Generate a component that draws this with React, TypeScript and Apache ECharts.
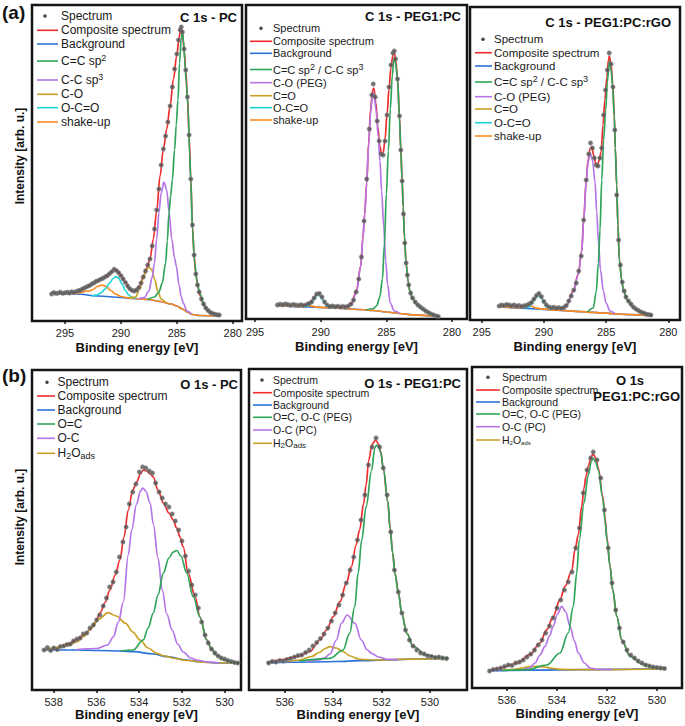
import React, { useEffect, useRef } from 'react';
import * as echarts from 'echarts';

type P = [number, number];

// ---------- Panel 1: C 1s - PC ----------
const c1pcSpectrum: P[] = [[296.2,27],[296.0,28.5],[295.8,27.5],[295.6,28],[295.4,28.8],[295.2,27.6],[295.0,28.2],[294.8,28.8],[294.6,28],[294.4,29.2],[294.2,28.6],[294.0,29.6],[293.8,30.2],[293.6,31],[293.4,32.2],[293.2,33.4],[293.0,34.6],[292.8,35.4],[292.6,37],[292.4,38.2],[292.2,39.8],[292.0,40.6],[291.8,41.8],[291.6,42.8],[291.4,44.2],[291.2,45.4],[291.0,47.4],[290.8,49.4],[290.6,51.8],[290.4,50.4],[290.2,48.2],[290.0,45.2],[289.8,42],[289.6,38.6],[289.4,35],[289.2,32.2],[289.0,30.6],[288.8,30],[288.6,31],[288.4,33.4],[288.2,38],[288.0,44],[287.8,50],[287.6,56],[287.4,62],[287.2,75],[287.0,92],[286.8,111],[286.6,132],[286.4,156],[286.2,172],[286.0,185],[285.8,199],[285.6,215],[285.4,234],[285.2,252],[285.0,267],[284.85,281],[284.7,291],[284.6,294],[284.5,289],[284.35,272],[284.2,251],[284.05,224],[283.9,186],[283.75,142],[283.6,96],[283.45,66],[283.3,47],[283.15,36],[283.0,29],[282.8,22],[282.6,17],[282.4,13],[282.2,10.5],[282.0,8.5],[281.8,7.5],[281.6,6.8],[281.4,6.2],[281.2,6]];
const c1pcComposite: P[] = [[296.2,28],[295,28],[294,29],[293.5,31],[293,34],[292.5,37.5],[292,41],[291.5,44],[291,47.5],[290.6,51],[290.3,50],[290,46],[289.6,39],[289.2,32],[288.9,30],[288.6,31],[288.3,36],[288,44],[287.7,53],[287.4,62],[287.1,82],[286.8,110],[286.5,145],[286.2,172],[285.9,192],[285.6,215],[285.3,242],[285.0,266],[284.8,283],[284.65,293],[284.5,289],[284.35,272],[284.2,250],[284.05,225],[283.9,185],[283.75,142],[283.6,95],[283.45,65],[283.3,47],[283.1,33],[282.9,25],[282.6,17],[282.3,11.5],[282,8.5],[281.6,6.5],[281.2,6]];
const c1pcBackground: P[] = [[296.2,28],[294,27],[292,25],[290,23.5],[288.9,22.5],[287.5,21.5],[286.5,19.5],[285.5,17],[285,15],[284.5,12],[284,8.5],[283.6,6.5],[283,5.5],[281.2,5]];
const c1pcShakeUp: P[] = [[296.2,28],[295,27.5],[294,27.5],[293.5,28.5],[293.1,30],[292.8,30],[292.5,31.5],[292.1,34.5],[291.7,36],[291.3,34.5],[290.9,30.5],[290.5,27],[290,24.5],[289.5,23.5],[288.9,22.5],[287.5,21.5],[286.5,19.5],[285.5,17],[285,15],[284.5,12],[284,8.5],[283.6,6.5],[283,5.5],[281.2,5]];
const c1pcOCO: P[] = [[292.6,25],[292.2,25.8],[291.8,28],[291.4,32],[291,38],[290.7,42.5],[290.45,44.5],[290.2,43],[289.9,37],[289.6,30.5],[289.3,26],[289,23.5],[288.6,22.8]];
const c1pcCO: P[] = [[289.3,23],[288.7,24],[288.3,32],[288.0,43],[287.75,51],[287.5,54],[287.25,51.5],[287.0,42],[286.7,30],[286.4,22],[286.0,18.5]];
const c1pcCCsp3: P[] = [[288.4,22.2],[287.9,23.5],[287.5,30],[287.2,44],[287.0,58],[286.8,82],[286.6,108],[286.4,128],[286.15,139],[285.9,131],[285.7,110],[285.45,82],[285.2,63],[285.05,55],[284.8,36],[284.6,24],[284.4,17.5],[284.1,10],[283.7,7]];
const c1pcCCsp2: P[] = [[287.6,21.5],[287.0,24],[286.6,29],[286.3,38],[286.0,58],[285.85,80],[285.7,108],[285.55,125],[285.4,141],[285.2,171],[285.05,196],[284.9,221],[284.75,258],[284.6,284],[284.5,289],[284.4,280],[284.3,262],[284.15,238],[284.0,215],[283.85,167],[283.75,141],[283.6,91],[283.4,58],[283.2,40],[282.95,28],[282.5,14],[282.0,8],[281.2,5.5]];

// ---------- Panel 2: C 1s - PEG1:PC ----------
const c1pegSpectrum: P[] = [[293.3,14],[293.1,14.8],[292.9,14.2],[292.7,15],[292.5,14.5],[292.3,13.8],[292.1,14.6],[291.9,14],[291.7,13.6],[291.5,14.2],[291.3,13.5],[291.1,14.4],[290.9,15.5],[290.7,17],[290.5,21],[290.3,25],[290.1,25.5],[289.9,22],[289.7,17],[289.5,13.8],[289.3,12.5],[289.1,13],[288.9,12.2],[288.7,12.8],[288.5,12],[288.3,12.6],[288.1,12],[287.9,13],[287.7,15],[287.5,19],[287.3,27],[287.1,40],[286.9,62],[286.7,98],[286.5,140],[286.3,190],[286.1,224],[286.0,235],[285.85,222],[285.7,198],[285.55,178],[285.4,165],[285.25,164],[285.1,178],[284.95,204],[284.8,232],[284.65,254],[284.5,266],[284.4,268],[284.3,260],[284.15,240],[284.0,203],[283.9,169],[283.8,138],[283.7,105],[283.6,76],[283.5,56],[283.4,44],[283.3,34],[283.15,26],[283.0,21],[282.8,17],[282.6,14],[282.4,12],[282.2,10],[282.0,8],[281.8,6.5],[281.6,5],[281.4,4],[281.2,3],[281.05,2.6]];
const c1pegComposite: P[] = [[293.3,14],[292,13.5],[291.4,13.5],[291.1,14.2],[290.8,16.5],[290.55,20.5],[290.35,24.5],[290.2,25.5],[290.05,24],[289.85,19.5],[289.6,15],[289.3,12.6],[288.7,12],[288.2,12.3],[287.9,13.5],[287.65,16],[287.27,29],[286.96,53],[286.79,81],[286.65,105],[286.5,136],[286.35,176],[286.2,210],[286.05,229],[285.95,231],[285.8,216],[285.65,192],[285.5,173],[285.36,165],[285.24,166],[285.1,180],[284.95,205],[284.8,230],[284.65,252],[284.5,264],[284.4,267],[284.28,258],[284.15,240],[284.0,202],[283.9,169],[283.8,139],[283.72,112],[283.62,82],[283.5,56],[283.35,38],[283.2,27],[283.0,20],[282.7,15],[282.3,10],[281.94,7.5],[281.5,4.5],[281.05,2.6]];
const c1pegBackground: P[] = [[293.3,13.5],[291,12],[289,11],[287,9.5],[286,8.5],[285,7],[284,5.5],[283,4.2],[281.05,2.6]];
const c1pegShakeUp: P[] = [[293.3,13.5],[292,12.8],[291.4,12.3],[291.1,13.2],[290.9,13.6],[290.6,12.6],[290.2,11.8],[289,11],[287,9.5],[286,8.5],[285,7],[284,5.5],[283,4.2],[281.05,2.6]];
const c1pegOCO: P[] = [[291.3,12.3],[291,13],[290.7,16],[290.5,20],[290.3,23.5],[290.2,24],[290.05,23],[289.85,19],[289.6,14.5],[289.3,11.8],[289,11]];
const c1pegCOPEG: P[] = [[288.2,10.5],[287.65,14],[287.27,27],[286.96,52],[286.79,80],[286.65,105],[286.5,135],[286.35,174],[286.2,206],[286.05,225],[285.95,226],[285.8,210],[285.62,183],[285.49,158],[285.36,128],[285.2,92],[285.05,58],[284.9,34],[284.7,16],[284.4,8],[284.0,5.8]];
const c1pegCC: P[] = [[286.5,9],[286.0,10.5],[285.75,13],[285.5,22],[285.3,40],[285.15,75],[285.0,125],[284.85,168],[284.7,210],[284.55,243],[284.42,261],[284.3,256],[284.15,240],[284.0,201],[283.9,168],[283.8,139],[283.72,112],[283.62,82],[283.5,56],[283.35,38],[283.2,27],[283.0,20],[282.7,15],[282.3,10],[281.94,7.5],[281.5,4.5],[281.05,2.6]];

// ---------- Panel 3: C 1s - PEG1:PC:rGO ----------
const c1rgoSpectrum: P[] = [[293.6,14],[293.4,15],[293.2,14.5],[293.0,15.5],[292.8,15],[292.6,14.2],[292.4,15],[292.2,14],[292.0,14.5],[291.8,13.6],[291.6,14.2],[291.4,14.8],[291.2,16],[291.0,17.5],[290.8,21],[290.6,24.5],[290.4,26.5],[290.2,23.5],[290.0,18.5],[289.8,15],[289.6,13],[289.4,12.2],[289.2,12.8],[289.0,11.8],[288.8,12.4],[288.6,11.6],[288.4,12.5],[288.2,14.5],[288.0,19],[287.8,24],[287.6,30],[287.4,37],[287.2,49],[287.0,64],[286.8,100],[286.6,140],[286.4,166],[286.25,177],[286.1,172],[285.95,162],[285.8,155],[285.65,154],[285.5,162],[285.35,172],[285.2,205],[285.05,230],[284.9,250],[284.75,267],[284.6,256],[284.45,233],[284.3,190],[284.15,125],[284.0,80],[283.85,55],[283.7,38],[283.55,29],[283.4,23],[283.2,19],[283.0,16],[282.8,13],[282.6,11],[282.4,9.5],[282.2,8],[282.0,7],[281.8,6],[281.6,5.5],[281.4,5]];
const c1rgoComposite: P[] = [[293.6,14.5],[292.5,14],[291.8,13.5],[291.4,14],[291.2,15.5],[290.95,18.5],[290.7,22.5],[290.45,26],[290.2,23],[290,18.5],[289.75,14],[289.4,12],[289,11],[288.5,11.5],[288.17,15.5],[287.64,29],[287.24,46],[286.96,69],[286.8,101],[286.6,139],[286.45,160],[286.28,172],[286.15,173],[286.0,165],[285.85,157],[285.71,154],[285.55,160],[285.4,168],[285.25,195],[285.1,220],[284.95,242],[284.8,261],[284.74,264],[284.6,256],[284.47,236],[284.34,204],[284.26,172],[284.15,135],[284.05,95],[283.93,60],[283.75,40],[283.61,30],[283.3,20],[282.8,12],[282.2,7.5],[281.33,5]];
const c1rgoBackground: P[] = [[293.6,13.3],[291,11.4],[289,9.8],[287,8.3],[286,7.6],[285,6.8],[284,6],[283,5.3],[281.33,4]];
const c1rgoShakeUp: P[] = [[293.6,13.3],[292.5,12.6],[291.9,12.3],[291.55,13.4],[291.25,15],[291.0,14],[290.7,12.2],[290.2,11.1],[289,9.8],[287,8.3],[286,7.6],[285,6.8],[284,6],[283,5.3],[281.33,4]];
const c1rgoOCO: P[] = [[291.5,12],[291.2,13],[290.95,16.5],[290.7,21.5],[290.45,25],[290.2,22],[290.0,17.5],[289.75,13],[289.4,10.8]];
const c1rgoCOPEG: P[] = [[288.5,10],[288.17,15],[287.64,28],[287.24,45],[286.96,68],[286.8,100],[286.6,138],[286.45,158],[286.28,167],[286.1,160],[285.89,138],[285.75,108],[285.62,78],[285.45,50],[285.22,29],[285.0,17],[284.69,9],[284.3,6.5]];
const c1rgoCC: P[] = [[286.5,8],[286.03,12],[285.8,28],[285.62,57],[285.49,90],[285.35,140],[285.2,180],[285.03,210],[284.9,238],[284.74,259],[284.6,250],[284.47,232],[284.34,203],[284.26,172],[284.15,135],[284.05,95],[283.93,60],[283.75,40],[283.61,30],[283.3,20],[282.8,12],[282.2,7.5],[281.33,5]];

// ---------- Panel 4: O 1s - PC ----------
const o1pcSpectrum: P[] = [[538.45,40],[538.29,42.5],[538.14,39.5],[537.99,42],[537.83,40.5],[537.68,43.5],[537.53,44],[537.37,45.5],[537.22,46],[537.07,49],[536.91,51],[536.76,52],[536.61,56],[536.45,57],[536.3,62],[536.14,65],[535.99,70],[535.84,75],[535.68,84],[535.53,92],[535.38,103],[535.22,108],[535.07,118],[534.92,133],[534.76,148],[534.61,163],[534.46,186],[534.3,198],[534.15,206],[533.99,218],[533.84,223],[533.69,222],[533.53,219],[533.38,217],[533.23,207],[533.07,198],[532.92,192],[532.77,186],[532.61,183],[532.46,176],[532.31,169],[532.15,160],[532.0,149],[531.84,134],[531.69,119],[531.54,105],[531.38,95],[531.23,82],[531.08,68],[530.92,55],[530.77,47],[530.62,41],[530.46,37],[530.31,34],[530.16,32],[530.0,31],[529.85,29.5],[529.69,28.5],[529.54,27.5],[529.39,27]];
const o1pcComposite: P[] = [[538.45,40],[537.94,41.5],[537.7,43.3],[537.32,46],[536.92,50],[536.61,55],[536.3,60],[536.04,68],[535.83,77],[535.58,88],[535.37,100],[535.12,115],[534.9,130],[534.71,153],[534.51,180],[534.3,200],[534.12,208],[533.94,216],[533.81,220],[533.64,219],[533.48,216],[533.34,213],[533.12,200],[532.87,187],[532.61,177],[532.41,170],[532.25,162],[532.09,153],[531.94,143],[531.71,117],[531.38,93],[531.16,73],[530.84,50],[530.62,41],[530.38,35],[530.05,30],[529.6,27.3],[529.34,26.8]];
const o1pcBackground: P[] = [[538.45,40],[536.91,40],[535.89,39.5],[534.86,39],[534.25,38.3],[533.33,36],[532.71,33.3],[531.79,30],[531.18,28.3],[530.26,27],[529.34,26.7]];
const o1pcH2O: P[] = [[538.45,40],[537.39,44],[536.91,48],[536.61,53.3],[536.2,63],[535.89,71],[535.45,77.3],[535.07,74],[534.63,66.7],[534.3,58],[533.96,50],[533.58,42],[533.19,36.7],[532.82,34],[532.3,31.5],[531.79,29.5],[530.77,27.5],[529.34,26.7]];
const o1pcOC: P[] = [[536.91,40.5],[535.99,41.5],[535.48,45],[535.21,53],[534.97,68],[534.74,88],[534.51,135],[534.35,160],[534.12,186],[533.94,199],[533.83,202],[533.69,199],[533.49,187],[533.34,166],[533.12,132],[532.92,100],[532.71,76],[532.46,60],[532.2,46],[531.94,38],[531.59,32],[531.31,30],[530.77,28],[530.26,27]];
const o1pcOdC: P[] = [[534.86,39],[534.28,40],[533.81,50],[533.58,62],[533.34,77],[533.12,95],[532.87,117],[532.61,132],[532.41,138],[532.24,139.5],[532.05,134],[531.78,117],[531.47,93],[531.16,73],[530.84,50],[530.62,41],[530.38,35],[530.05,30],[529.6,27.3],[529.34,26.8]];

// ---------- Panel 5: O 1s - PEG1:PC ----------
const o1pegSpectrum: P[] = [[536.67,27],[536.52,28.5],[536.37,28],[536.21,29.5],[536.06,29],[535.91,30.5],[535.76,31.5],[535.6,33],[535.45,34.5],[535.3,35],[535.14,37.5],[534.99,40],[534.84,44],[534.68,47.5],[534.53,51.5],[534.38,56],[534.22,62],[534.07,69],[533.92,77],[533.76,85],[533.61,95],[533.46,107],[533.3,120],[533.15,133],[533.0,150],[532.85,170],[532.69,195],[532.54,225],[532.39,243],[532.23,252],[532.08,243],[531.93,222],[531.77,195],[531.62,158],[531.47,120],[531.31,98],[531.16,77],[531.01,60],[530.85,50],[530.7,44],[530.55,40],[530.39,37],[530.24,36],[530.09,34],[529.94,33.5],[529.78,32.5],[529.63,33],[529.48,32],[529.32,31.5]];
const o1pegComposite: P[] = [[536.68,28],[536.19,30],[535.52,33.3],[534.97,38.3],[534.55,50],[534.27,60],[534.0,73.3],[533.72,88.3],[533.46,106.7],[533.25,123.3],[533.05,145],[532.91,160],[532.74,186.7],[532.64,205],[532.53,230],[532.39,246],[532.24,250],[532.13,246],[532.03,238],[531.93,221],[531.74,188],[531.65,162],[531.54,137],[531.45,117],[531.3,97],[531.17,77],[530.96,57],[530.69,43.5],[530.14,35],[529.68,32.5],[529.24,31.7]];
const o1pegBackground: P[] = [[536.73,27.3],[534.89,28],[533.87,28.5],[532.85,29.3],[531.82,30],[530.8,30.8],[529.24,31.5]];
const o1pegH2O: P[] = [[535.91,28],[535.4,30],[534.89,33.5],[534.58,37.5],[534.33,41.5],[534.13,43.3],[533.87,42],[533.61,38.5],[533.3,34],[532.95,31],[532.74,30.5],[532.33,30],[530.8,30.8],[529.24,31.5]];
const o1pegOCPC: P[] = [[535.09,28.5],[534.56,30],[534.38,32],[534.13,36],[533.87,50],[533.66,66.7],[533.42,75],[533.1,66.7],[532.84,50],[532.59,40],[532.41,36.7],[532.13,33],[531.79,30.7],[531.31,30.5]];
const o1pegOCPEG: P[] = [[535.4,29],[534.13,31.7],[533.59,40],[533.32,56.7],[533.11,83.3],[532.97,116.7],[532.82,150],[532.64,183.3],[532.41,220],[532.28,242],[532.2,245],[532.11,243],[532.03,237],[531.93,222],[531.74,188.3],[531.65,161.7],[531.54,136.7],[531.45,116.7],[531.3,96.7],[531.17,76.7],[530.96,56.7],[530.69,43.3],[530.14,35],[529.68,32.5],[529.24,31.7]];

// ---------- Panel 6: O 1s - PEG1:PC:rGO ----------
const o1rgoSpectrum: P[] = [[536.7,17],[536.55,18.5],[536.4,19],[536.25,20],[536.1,21.5],[535.95,23],[535.8,22.5],[535.65,25],[535.5,26],[535.35,28],[535.2,31],[535.05,34],[534.9,38],[534.75,43],[534.6,48],[534.45,55],[534.3,62],[534.15,70],[534.0,80],[533.85,88],[533.7,98],[533.55,106],[533.4,116],[533.25,140],[533.1,160],[532.95,195],[532.8,218],[532.65,230],[532.55,236],[532.4,228],[532.25,210],[532.1,178],[531.95,140],[531.8,105],[531.65,78],[531.5,60],[531.35,46],[531.2,38],[531.05,33],[530.9,30],[530.75,27],[530.6,25],[530.45,23],[530.3,22],[530.15,21],[530.0,20.5],[529.85,20],[529.7,19.5]];
const o1rgoComposite: P[] = [[536.68,17.3],[536.28,20],[535.61,25],[535.08,33.3],[534.68,45],[534.41,58.3],[534.15,71.7],[533.88,88.3],[533.68,101.7],[533.41,117],[533.28,138.3],[533.15,153],[533.01,181.7],[532.92,200],[532.84,211.7],[532.75,222],[532.62,232],[532.55,234],[532.45,230],[532.35,220],[532.17,192],[532.08,170],[532.0,150],[531.88,122],[531.77,98],[531.61,72],[531.41,48],[531.08,32],[530.55,23.5],[530.1,20.5],[529.68,20]];
const o1rgoBackground: P[] = [[536.7,17.3],[535,17.8],[533,18.3],[531,18.8],[529.68,19]];
const o1rgoH2O: P[] = [[536.2,17.5],[535.8,18.5],[535.4,20],[535.1,21.3],[534.81,21.7],[534.5,21],[534.2,19.7],[533.8,18.6],[533.3,18.3],[529.68,19]];
const o1rgoOCPC: P[] = [[535.4,18],[535.1,20],[534.88,25],[534.68,33],[534.48,41.7],[534.3,52],[534.15,61.7],[533.98,74],[533.81,81.7],[533.65,76],[533.48,61.7],[533.3,47],[533.15,35],[532.9,25],[532.68,20],[532.3,18.5],[531.8,18.5]];
const o1rgoOCPEG: P[] = [[536.2,17.5],[535.2,18.3],[534.41,23],[533.88,35],[533.55,55],[533.35,81.7],[533.21,115],[533.11,148],[532.92,185],[532.75,213],[532.62,227],[532.55,230],[532.45,226],[532.35,218],[532.17,190],[532.08,168],[532.0,148],[531.88,122],[531.77,98],[531.61,71.7],[531.41,48],[531.08,31.7],[530.55,23.3],[530.1,20.5],[529.68,20]];

// ---------- Labels ----------
const cTicks = [280, 285, 290, 295];
const oTicksPC = [530, 532, 534, 536, 538];
const oTicksPEG = [530, 532, 534, 536];
const titles = ['C 1s - PC', 'C 1s - PEG1:PC', 'C 1s - PEG1:PC:rGO', 'O 1s - PC', 'O 1s - PEG1:PC', 'O 1s\nPEG1:PC:rGO'];
const legendC1 = ['Spectrum', 'Composite spectrum', 'Background', 'C=C sp{sup|2}', 'C-C sp{sup|3}', 'C-O', 'O-C=O', 'shake-up'];
const legendC2 = ['Spectrum', 'Composite spectrum', 'Background', 'C=C sp{sup|2} / C-C sp{sup|3}', 'C-O (PEG)', 'C=O', 'O-C=O', 'shake-up'];
const legendO1 = ['Spectrum', 'Composite spectrum', 'Background', 'O=C', 'O-C', 'H{sub|2}O{sub|ads}'];
const legendO2 = ['Spectrum', 'Composite spectrum', 'Background', 'O=C, O-C (PEG)', 'O-C (PC)', 'H{sub|2}O{sub|ads}'];

const FONT = '"Liberation Sans", Arial, Helvetica, sans-serif';
const COL = {
  dot: '#4a4a4a',
  red: '#ef2b2d',
  blue: '#2b72d8',
  green: '#2ea55a',
  purple: '#b676e8',
  gold: '#c9a024',
  cyan: '#1ad4d6',
  orange: '#ff8a1e',
};
const legendColC = [COL.dot, COL.red, COL.blue, COL.green, COL.purple, COL.gold, COL.cyan, COL.orange];
const legendColO = [COL.dot, COL.red, COL.blue, COL.green, COL.purple, COL.gold];

type Curve = { name: string; data: P[]; color: string };
type Panel = {
  box: [number, number, number, number];
  xr: [number, number];
  ticks: number[];
  ymax: number;
  nameGap: number;
  labelMargin: number;
  spectrum: P[];
  curves: Curve[];
  legend: { labels: string[]; colors: string[]; x0: number; x1: number; tx: number; dx: number; ys: number[]; fs: number; subFs: number };
  title: { lines: { text: string; x: number; y: number; align: string }[]; fs: number };
};

const panels: Panel[] = [
  {
    box: [32, 5, 210, 316], xr: [279.17, 297.95], ticks: cTicks, ymax: 316, nameGap: 20, labelMargin: 6,
    spectrum: c1pcSpectrum,
    curves: [
      { name: 'Background', data: c1pcBackground, color: COL.blue },
      { name: 'Composite spectrum', data: c1pcComposite, color: COL.red },
      { name: 'shake-up', data: c1pcShakeUp, color: COL.orange },
      { name: 'O-C=O', data: c1pcOCO, color: COL.cyan },
      { name: 'C-O', data: c1pcCO, color: COL.gold },
      { name: 'C-C sp3', data: c1pcCCsp3, color: COL.purple },
      { name: 'C=C sp2', data: c1pcCCsp2, color: COL.green },
    ],
    legend: { labels: legendC1, colors: legendColC, x0: 37, x1: 58, tx: 61, dx: 45, ys: [16, 30.3, 44, 61, 80, 94.3, 107.7, 122], fs: 12, subFs: 8 },
    title: { lines: [{ text: titles[0], x: 237, y: 17, align: 'right' }], fs: 13 },
  },
  {
    box: [246, 5, 221, 314], xr: [278.86, 295.69], ticks: cTicks, ymax: 314, nameGap: 21, labelMargin: 7,
    spectrum: c1pegSpectrum,
    curves: [
      { name: 'Background', data: c1pegBackground, color: COL.blue },
      { name: 'Composite spectrum', data: c1pegComposite, color: COL.red },
      { name: 'shake-up', data: c1pegShakeUp, color: COL.orange },
      { name: 'O-C=O', data: c1pegOCO, color: COL.cyan },
      { name: 'C-O (PEG)', data: c1pegCOPEG, color: COL.purple },
      { name: 'C=C sp2 / C-C sp3', data: c1pegCC, color: COL.green },
    ],
    legend: { labels: legendC2, colors: legendColC, x0: 250, x1: 272, tx: 273, dx: 261, ys: [28.3, 41.3, 53.3, 69.5, 82.7, 95.7, 107.7, 120], fs: 11, subFs: 8 },
    title: { lines: [{ text: titles[1], x: 461, y: 16.5, align: 'right' }], fs: 13 },
  },
  {
    box: [470, 7, 210, 313], xr: [279.06, 295.94], ticks: cTicks, ymax: 313, nameGap: 20, labelMargin: 6,
    spectrum: c1rgoSpectrum,
    curves: [
      { name: 'Background', data: c1rgoBackground, color: COL.blue },
      { name: 'Composite spectrum', data: c1rgoComposite, color: COL.red },
      { name: 'shake-up', data: c1rgoShakeUp, color: COL.orange },
      { name: 'O-C=O', data: c1rgoOCO, color: COL.cyan },
      { name: 'C-O (PEG)', data: c1rgoCOPEG, color: COL.purple },
      { name: 'C=C sp2 / C-C sp3', data: c1rgoCC, color: COL.green },
    ],
    legend: { labels: legendC2, colors: legendColC, x0: 475, x1: 492, tx: 494, dx: 483, ys: [39.3, 52.7, 66, 82, 96.7, 109, 122.7, 136], fs: 11.5, subFs: 8 },
    title: { lines: [{ text: titles[2], x: 671, y: 22, align: 'right' }], fs: 13 },
  },
  {
    box: [32, 370, 209, 320], xr: [529.24, 539.01], ticks: oTicksPC, ymax: 320, nameGap: 17, labelMargin: 6,
    spectrum: o1pcSpectrum,
    curves: [
      { name: 'Background', data: o1pcBackground, color: COL.blue },
      { name: 'Composite spectrum', data: o1pcComposite, color: COL.red },
      { name: 'H2Oads', data: o1pcH2O, color: COL.gold },
      { name: 'O-C', data: o1pcOC, color: COL.purple },
      { name: 'O=C', data: o1pcOdC, color: COL.green },
    ],
    legend: { labels: legendO1, colors: legendColO, x0: 37, x1: 55, tx: 57.5, dx: 47, ys: [382.3, 396, 410, 424, 438.3, 453.3], fs: 12, subFs: 9 },
    title: { lines: [{ text: titles[3], x: 238, y: 384, align: 'right' }], fs: 13 },
  },
  {
    box: [249, 369, 218, 321], xr: [528.47, 537.48], ticks: oTicksPEG, ymax: 321, nameGap: 17, labelMargin: 6,
    spectrum: o1pegSpectrum,
    curves: [
      { name: 'Background', data: o1pegBackground, color: COL.blue },
      { name: 'Composite spectrum', data: o1pegComposite, color: COL.red },
      { name: 'H2Oads', data: o1pegH2O, color: COL.gold },
      { name: 'O-C (PC)', data: o1pegOCPC, color: COL.purple },
      { name: 'O=C, O-C (PEG)', data: o1pegOCPEG, color: COL.green },
    ],
    legend: { labels: legendO2, colors: legendColO, x0: 253, x1: 272, tx: 273, dx: 262, ys: [380, 392.7, 405, 417.3, 430, 443.3], fs: 10.5, subFs: 8 },
    title: { lines: [{ text: titles[4], x: 461, y: 383, align: 'right' }], fs: 13 },
  },
  {
    box: [472, 367, 210, 321], xr: [529.0, 537.4], ticks: oTicksPEG, ymax: 321, nameGap: 19, labelMargin: 6,
    spectrum: o1rgoSpectrum,
    curves: [
      { name: 'Background', data: o1rgoBackground, color: COL.blue },
      { name: 'Composite spectrum', data: o1rgoComposite, color: COL.red },
      { name: 'H2Oads', data: o1rgoH2O, color: COL.gold },
      { name: 'O-C (PC)', data: o1rgoOCPC, color: COL.purple },
      { name: 'O=C, O-C (PEG)', data: o1rgoOCPEG, color: COL.green },
    ],
    legend: { labels: legendO2, colors: legendColO, x0: 476, x1: 500, tx: 502, dx: 488, ys: [377.3, 390, 402, 414, 426.7, 440], fs: 10.5, subFs: 6 },
    title: {
      lines: [
        { text: titles[5].split('\n')[0], x: 630, y: 380, align: 'center' },
        { text: titles[5].split('\n')[1], x: 680, y: 396.5, align: 'right' },
      ], fs: 13,
    },
  },
];

function buildOption() {
  const grid: any[] = [];
  const xAxis: any[] = [];
  const yAxis: any[] = [];
  const series: any[] = [];
  const elements: any[] = [];

  panels.forEach((p, i) => {
    grid.push({
      left: p.box[0], top: p.box[1], width: p.box[2], height: p.box[3],
      show: true, borderColor: '#151515', borderWidth: 2.5, backgroundColor: '#ffffff',
    });
    xAxis.push({
      type: 'value', gridIndex: i, inverse: true, min: p.xr[0], max: p.xr[1],
      axisLine: { show: false }, splitLine: { show: false },
      axisTick: { show: true, customValues: p.ticks, length: 3, lineStyle: { color: '#151515', width: 1.5 } },
      axisLabel: { customValues: p.ticks, fontSize: 11, color: '#222', margin: p.labelMargin, fontFamily: FONT },
      name: 'Binding energy [eV]', nameLocation: 'middle', nameGap: p.nameGap,
      nameTextStyle: { fontSize: 13, fontWeight: 'bold', color: '#111', fontFamily: FONT },
    });
    yAxis.push({ type: 'value', gridIndex: i, min: 0, max: p.ymax, show: false });

    p.curves.forEach((c, k) => {
      series.push({
        type: 'line', name: c.name, data: c.data, xAxisIndex: i, yAxisIndex: i,
        symbol: 'none', showSymbol: false, smooth: 0.35, smoothMonotone: 'x',
        lineStyle: { color: c.color, width: 1.7 }, itemStyle: { color: c.color },
        z: 2 + k, silent: true,
      });
    });
    series.push({
      type: 'scatter', name: 'Spectrum', data: p.spectrum, xAxisIndex: i, yAxisIndex: i,
      symbolSize: 4.5, itemStyle: { color: '#505050', borderColor: '#9a9a9a', borderWidth: 0.6 },
      z: 20, silent: true,
    });

    const lg = p.legend;
    lg.labels.forEach((lab, k) => {
      const y = lg.ys[k];
      if (k === 0) {
        elements.push({ type: 'circle', shape: { cx: lg.dx, cy: y, r: 1.8 }, style: { fill: COL.dot } });
      } else {
        elements.push({ type: 'line', shape: { x1: lg.x0, y1: y, x2: lg.x1, y2: y }, style: { stroke: lg.colors[k], lineWidth: 1.6 } });
      }
      elements.push({
        type: 'text', x: lg.tx, y,
        style: {
          text: lab, fontSize: lg.fs, fontFamily: FONT, fill: '#1a1a1a',
          align: 'left', verticalAlign: 'middle',
          rich: {
            sup: { fontSize: lg.subFs + 1, fontFamily: FONT, fill: '#1a1a1a', verticalAlign: 'top', lineHeight: lg.fs + 4, padding: [0, 0, 6, 0] },
            sub: { fontSize: lg.subFs, fontFamily: FONT, fill: '#1a1a1a', verticalAlign: 'bottom', lineHeight: lg.fs + 2, padding: [4, 0, 0, 0] },
          },
        },
      });
    });
    p.title.lines.forEach((t) => {
      elements.push({
        type: 'text', x: t.x, y: t.y,
        style: { text: t.text, fontSize: p.title.fs, fontWeight: 'bold', fontFamily: FONT, fill: '#111', align: t.align, verticalAlign: 'middle' },
      });
    });
  });

  elements.push({ type: 'text', x: 2, y: 12, style: { text: '(a)', fontSize: 19, fontWeight: 'bold', fontFamily: FONT, fill: '#111', align: 'left', verticalAlign: 'middle' } });
  elements.push({ type: 'text', x: 2, y: 375, style: { text: '(b)', fontSize: 19, fontWeight: 'bold', fontFamily: FONT, fill: '#111', align: 'left', verticalAlign: 'middle' } });
  elements.push({ type: 'text', x: 20, y: 156, rotation: Math.PI / 2, style: { text: 'Intensity [arb. u.]', fontSize: 12, fontWeight: 'bold', fontFamily: FONT, fill: '#111', align: 'center', verticalAlign: 'middle' } });
  elements.push({ type: 'text', x: 20, y: 517, rotation: Math.PI / 2, style: { text: 'Intensity [arb. u.]', fontSize: 12, fontWeight: 'bold', fontFamily: FONT, fill: '#111', align: 'center', verticalAlign: 'middle' } });

  return {
    animation: false,
    backgroundColor: '#ffffff',
    grid, xAxis, yAxis, series,
    graphic: { elements },
  };
}

export default function App() {
  const ref = useRef<HTMLDivElement>(null);
  useEffect(() => {
    document.body.style.margin = '0';
    const chart = echarts.init(ref.current as HTMLDivElement, null, { renderer: 'svg' });
    chart.setOption(buildOption() as any);
    return () => chart.dispose();
  }, []);
  return <div ref={ref} style={{ width: 685, height: 726 }} />;
}
